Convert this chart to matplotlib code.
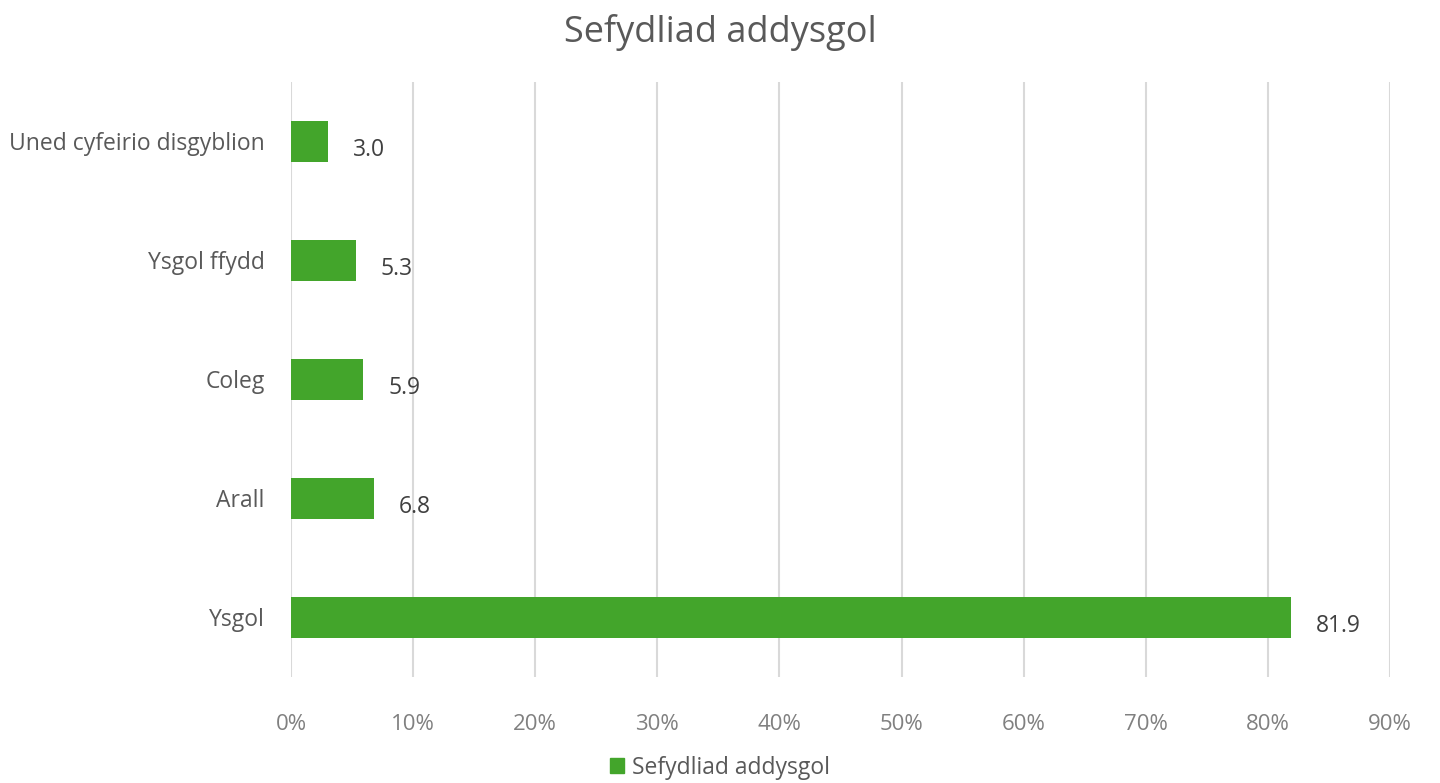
import matplotlib.pyplot as plt
from matplotlib.patches import Patch

plt.rcParams['font.family'] = ['Open Sans', 'DejaVu Sans']

categories = ['Ysgol', 'Arall', 'Coleg', 'Ysgol ffydd', 'Uned cyfeirio disgyblion']
values = [81.9, 6.8, 5.9, 5.3, 3.0]
series_name = 'Sefydliad addysgol'
xticks = [0, 10, 20, 30, 40, 50, 60, 70, 80, 90]

green = '#43a52b'

fig = plt.figure(figsize=(14.4, 7.83), dpi=100)
ax = fig.add_axes([0.2021, 0.1354, 0.7632, 0.7599])

ypos = list(range(len(categories)))
ax.barh(ypos, values, height=0.35, color=green, zorder=3)

for y, v in zip(ypos, values):
    ax.annotate('%.1f' % v, xy=(v, y), xytext=(18, -6), textcoords='offset points',
                ha='left', va='center', fontsize=16.5, color='#404040')

ax.set_xlim(0, 90)
ax.set_ylim(-0.5, len(categories) - 0.5)
ax.set_xticks(xticks)
ax.set_xticklabels(['%d%%' % t for t in xticks])
ax.set_yticks(ypos)
ax.set_yticklabels(categories)
ax.grid(axis='x', color='#d9d9d9', linewidth=1.5, zorder=0)
ax.tick_params(axis='x', length=0, pad=27, labelsize=16, labelcolor='#808080')
ax.tick_params(axis='y', length=0, pad=19, labelsize=16.5, labelcolor='#595959')
for s in ax.spines.values():
    s.set_visible(False)

fig.suptitle(series_name, y=0.982, fontsize=26, color='#595959')

fig.legend(handles=[Patch(color=green, label=series_name)], loc='lower center',
           bbox_to_anchor=(0.5, -0.022), frameon=False, fontsize=16.5,
           handlelength=0.6, handleheight=0.6, handletextpad=0.35,
           labelcolor='#595959')

fig.savefig('out.png', dpi=100)
